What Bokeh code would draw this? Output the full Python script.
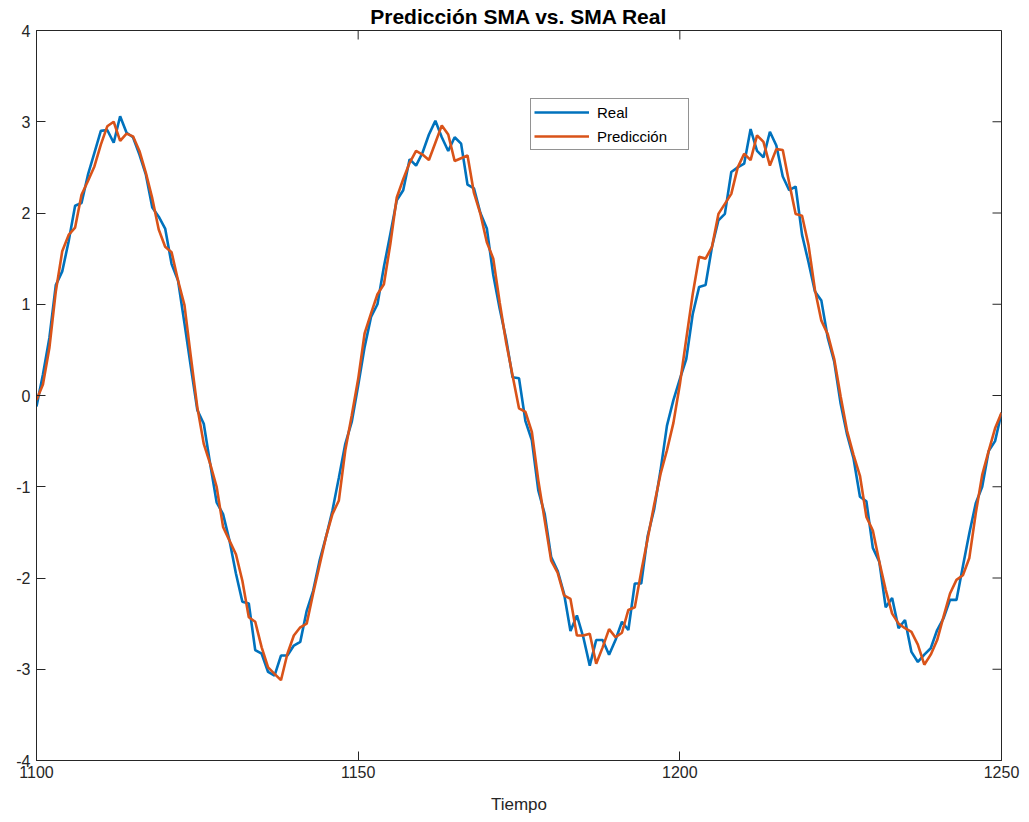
from bokeh.plotting import figure
from bokeh.models import Range1d, FixedTicker, Legend, LegendItem
from bokeh.embed import file_html
from bokeh.resources import INLINE

tiempo = list(range(1100, 1251))

real = [
    -0.12, 0.23, 0.63, 1.21, 1.36, 1.69, 2.08, 2.11, 2.42, 2.66,
    2.90, 2.91, 2.77, 3.06, 2.88, 2.83, 2.64, 2.42, 2.06, 1.96,
    1.83, 1.44, 1.26, 0.79, 0.31, -0.16, -0.31, -0.75, -1.17, -1.30,
    -1.59, -1.95, -2.26, -2.28, -2.79, -2.83, -3.03, -3.07, -2.85, -2.85,
    -2.74, -2.70, -2.36, -2.14, -1.81, -1.55, -1.26, -0.90, -0.53, -0.29,
    0.11, 0.53, 0.86, 1.00, 1.41, 1.77, 2.14, 2.25, 2.59, 2.52,
    2.66, 2.86, 3.01, 2.83, 2.68, 2.83, 2.76, 2.31, 2.27, 2.00,
    1.83, 1.32, 0.95, 0.62, 0.20, 0.19, -0.28, -0.49, -1.04, -1.30,
    -1.77, -1.92, -2.17, -2.58, -2.41, -2.65, -2.96, -2.68, -2.68, -2.84,
    -2.68, -2.48, -2.57, -2.06, -2.06, -1.54, -1.25, -0.82, -0.33, -0.05,
    0.18, 0.40, 0.89, 1.19, 1.21, 1.63, 1.92, 1.99, 2.45, 2.50,
    2.54, 2.92, 2.68, 2.61, 2.89, 2.74, 2.40, 2.25, 2.29, 1.76,
    1.46, 1.14, 1.04, 0.63, 0.37, -0.09, -0.43, -0.69, -1.11, -1.16,
    -1.67, -1.82, -2.32, -2.22, -2.55, -2.46, -2.81, -2.92, -2.84, -2.77,
    -2.57, -2.44, -2.24, -2.24, -1.87, -1.51, -1.18, -1.00, -0.61, -0.50,
    -0.19,
]

prediccion = [
    -0.05, 0.12, 0.52, 1.14, 1.58, 1.76, 1.84, 2.20, 2.35, 2.51,
    2.75, 2.95, 3.00, 2.79, 2.87, 2.84, 2.68, 2.44, 2.16, 1.82,
    1.63, 1.57, 1.26, 0.99, 0.42, -0.13, -0.53, -0.75, -1.00, -1.44,
    -1.59, -1.74, -2.03, -2.43, -2.48, -2.76, -2.98, -3.05, -3.12, -2.83,
    -2.63, -2.54, -2.50, -2.17, -1.86, -1.55, -1.30, -1.15, -0.60, -0.22,
    0.18, 0.68, 0.90, 1.11, 1.22, 1.66, 2.17, 2.37, 2.55, 2.68,
    2.64, 2.58, 2.77, 2.96, 2.86, 2.57, 2.60, 2.63, 2.22, 1.99,
    1.68, 1.50, 1.02, 0.58, 0.22, -0.14, -0.18, -0.40, -0.93, -1.37,
    -1.81, -1.94, -2.19, -2.23, -2.63, -2.63, -2.61, -2.94, -2.76, -2.56,
    -2.65, -2.60, -2.35, -2.32, -1.93, -1.57, -1.20, -0.86, -0.60, -0.30,
    0.12, 0.62, 1.11, 1.52, 1.50, 1.63, 1.99, 2.10, 2.21, 2.50,
    2.65, 2.58, 2.85, 2.78, 2.52, 2.70, 2.69, 2.33, 1.99, 1.97,
    1.65, 1.16, 0.82, 0.67, 0.40, -0.01, -0.39, -0.65, -0.88, -1.33,
    -1.48, -1.82, -2.13, -2.39, -2.50, -2.55, -2.59, -2.73, -2.95, -2.84,
    -2.68, -2.42, -2.17, -2.02, -1.97, -1.78, -1.29, -0.87, -0.61, -0.36,
    -0.19,
]

x_ticks = [1100, 1150, 1200, 1250]
x_tick_labels = ["1100", "1150", "1200", "1250"]
y_ticks = [-4, -3, -2, -1, 0, 1, 2, 3, 4]
y_tick_labels = ["-4", "-3", "-2", "-1", "0", "1", "2", "3", "4"]

title_text = "Predicción SMA vs. SMA Real"
x_label = "Tiempo"
series_names = ["Real", "Predicción"]
colors = ["#0072BD", "#D95319"]

AX = "#262626"
FONT = "Liberation Sans"
X0, X1, Y0, Y1 = 1100, 1250, -4, 4
FRAME_W, FRAME_H = 965, 730
TICK_PX = 9

p = figure(width=1029, height=822, output_backend="svg", toolbar_location=None,
           x_range=Range1d(X0, X1), y_range=Range1d(Y0, Y1),
           min_border_left=36, min_border_right=28, min_border_top=30,
           min_border_bottom=62, background_fill_color="white",
           border_fill_color="white")

p.title.text = title_text
p.title.align = "center"
p.title.text_font = FONT
p.title.text_font_size = "21px"
p.title.text_font_style = "bold"
p.title.text_color = "black"
p.title.offset = 0
p.title.standoff = 5

p.xgrid.visible = False
p.ygrid.visible = False
p.outline_line_color = AX
p.outline_line_width = 1

xa = p.xaxis[0]
ya = p.yaxis[0]
xa.ticker = FixedTicker(ticks=x_ticks)
xa.major_label_overrides = dict(zip(x_ticks, x_tick_labels))
ya.ticker = FixedTicker(ticks=y_ticks)
ya.major_label_overrides = dict(zip(y_ticks, y_tick_labels))
xa.axis_label = x_label

for ax in [xa, ya]:
    ax.major_tick_in = TICK_PX
    ax.major_tick_out = 0
    ax.minor_tick_line_color = None
    ax.axis_line_color = AX
    ax.major_tick_line_color = AX
    ax.major_label_text_color = AX
    ax.major_label_text_font = FONT
    ax.major_label_text_font_size = "16px"
    ax.axis_label_text_font = FONT
    ax.axis_label_text_font_size = "17px"
    ax.axis_label_text_font_style = "normal"
    ax.axis_label_text_color = AX

xa.major_label_standoff = 5
xa.axis_label_standoff = 14
ya.major_label_standoff = 6

# mirrored inward ticks on the top and right edges of the box
dy = TICK_PX * (Y1 - Y0) / FRAME_H
dx = TICK_PX * (X1 - X0) / FRAME_W
p.segment(x0=x_ticks, y0=[Y1] * len(x_ticks), x1=x_ticks, y1=[Y1 - dy] * len(x_ticks),
          line_color=AX, line_width=1)
p.segment(x0=[X1] * len(y_ticks), y0=y_ticks, x1=[X1 - dx] * len(y_ticks), y1=y_ticks,
          line_color=AX, line_width=1)

r1 = p.line(tiempo, real, line_color=colors[0], line_width=2.6)
r2 = p.line(tiempo, prediccion, line_color=colors[1], line_width=2.6)

legend = Legend(items=[LegendItem(label=series_names[0], renderers=[r1]),
                       LegendItem(label=series_names[1], renderers=[r2])],
                location=(494, 610))
legend.border_line_color = AX
legend.border_line_width = 1
legend.background_fill_color = "white"
legend.background_fill_alpha = 1
legend.label_text_font = FONT
legend.label_text_font_size = "15px"
legend.label_text_color = "black"
legend.glyph_width = 55
legend.glyph_height = 20
legend.label_standoff = 8
legend.label_width = 88
legend.spacing = 4
legend.padding = 3
legend.margin = 0
p.add_layout(legend, "center")

open("out.html", "w").write(file_html(p, INLINE))
